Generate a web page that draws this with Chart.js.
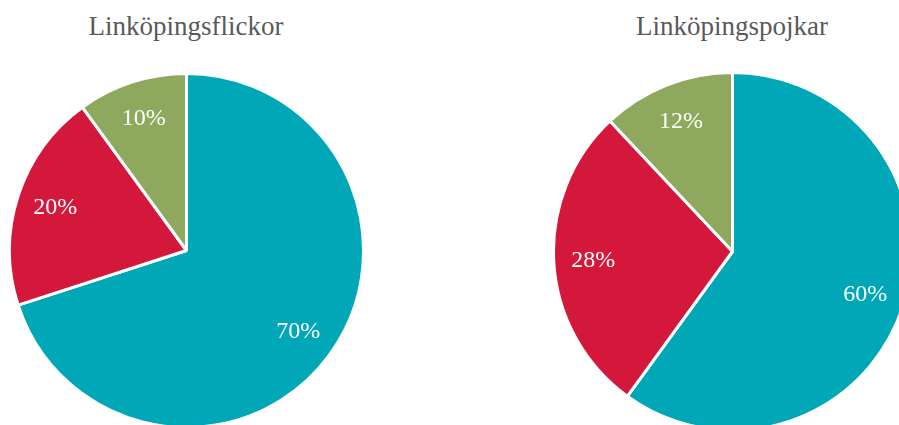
<!DOCTYPE html>
<html>
<head>
<meta charset="utf-8">
<script src="https://cdn.jsdelivr.net/npm/chart.js@4"></script>
<style>
    html, body { margin: 0; padding: 0; width: 899px; height: 425px; overflow: hidden; background: #fff; }
    .titel { position: absolute; top: 11px; width: 360px; text-align: center;
             font-family: "Liberation Serif", "Times New Roman", serif; font-size: 27px; color: #595959; }
    canvas { position: absolute; }
</style>
</head>
<body>
<div class="titel" style="left:6px">Linköpingsflickor</div>
<div class="titel" style="left:552px">Linköpingspojkar</div>
<canvas id="pieFlickor" width="357" height="357" style="left:8px;top:72px"></canvas>
<canvas id="piePojkar" width="361" height="361" style="left:552px;top:71px"></canvas>
<script>
/* =========================
    DATOS
========================= */
const kategorier = ["Grupp A", "Grupp B", "Grupp C"];
const flickor = [70, 20, 10];
const pojkar = [60, 28, 12];
const colores = ["#00A8B7", "#D4183B", "#8EA95D"];

// Etiquetas de porcentaje dentro de cada porción
const etiquetas = {
    id: "etiquetas",
    afterDatasetsDraw(chart) {
        const ctx = chart.ctx;
        const meta = chart.getDatasetMeta(0);
        ctx.save();
        ctx.fillStyle = "#FFFFFF";
        ctx.font = '24px "Liberation Serif", "Times New Roman", serif';
        ctx.textAlign = "center";
        ctx.textBaseline = "middle";
        meta.data.forEach((arc, i) => {
            const p = arc.getProps(["x", "y", "startAngle", "endAngle", "outerRadius"], true);
            const a = (p.startAngle + p.endAngle) / 2;
            const r = p.outerRadius * 0.78;
            ctx.fillText(chart.data.datasets[0].data[i] + "%", p.x + Math.cos(a) * r, p.y + Math.sin(a) * r);
        });
        ctx.restore();
    }
};

function crearTorta(id, valores) {
    new Chart(document.getElementById(id), {
        type: "pie",
        data: {
            labels: kategorier,
            datasets: [{
                data: valores,
                backgroundColor: colores,
                borderColor: "#FFFFFF",
                borderWidth: 3
            }]
        },
        options: {
            responsive: false,
            animation: false,
            plugins: {
                legend: { display: false },
                tooltip: { enabled: false }
            }
        },
        plugins: [etiquetas]
    });
}

crearTorta("pieFlickor", flickor);
crearTorta("piePojkar", pojkar);
</script>
</body>
</html>
